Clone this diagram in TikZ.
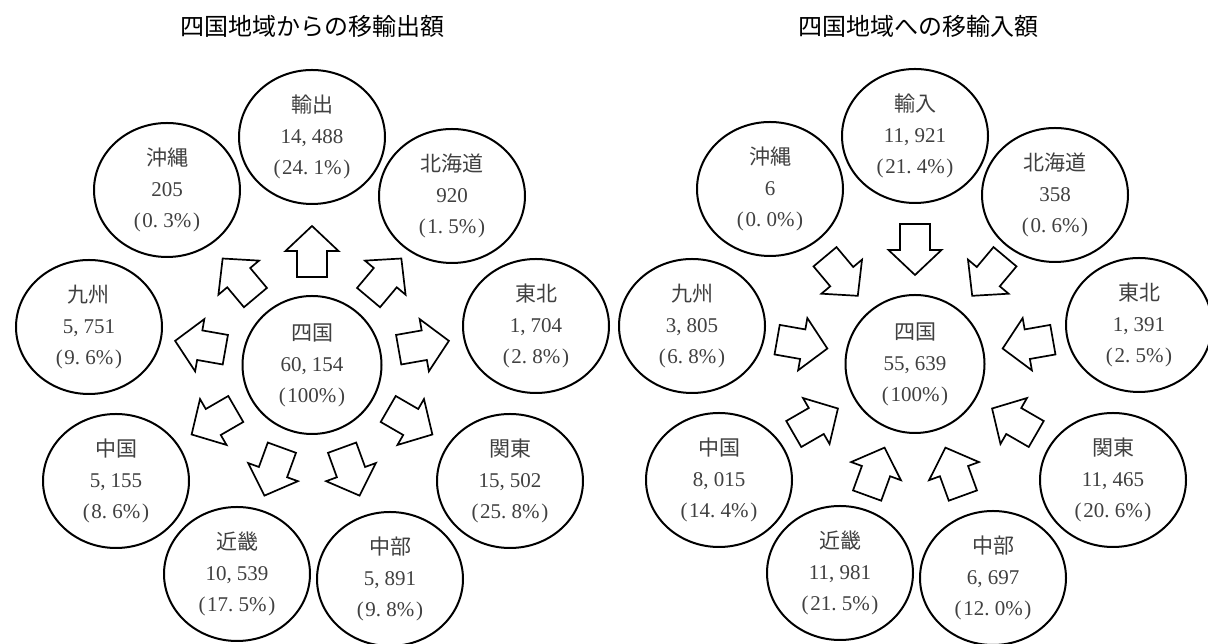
\documentclass[tikz,border=0pt]{standalone}
\usepackage{fontspec}
\setmainfont{Liberation Serif}
\newfontfamily\jpf{Noto Sans CJK JP}
\usetikzlibrary{shapes.geometric,calc}
\newcommand\cma{\makebox[0.5em][l]{,}}
\newcommand\dta{\makebox[0.5em][l]{.}}
\newcommand\lpa{\makebox[0.5em][c]{(}}
\newcommand\rpa{\makebox[0.5em][c]{)}}
\tikzset{
  region/.style={ellipse, draw, line width=2pt, minimum width=146pt, minimum height=134pt,
    inner sep=0pt, align=center, text=black!75, font=\fontsize{21}{31}\selectfont},
  hub/.style={region, minimum width=139pt, minimum height=138pt},
  blockarrow/.style={draw, line width=1.7pt, line join=miter, fill=white},
  ttl/.style={font=\jpf\fontsize{24}{28}\selectfont, text=black, inner sep=0pt}
}
\begin{document}
\begin{tikzpicture}[x=1pt,y=1pt]
\clip (0,0) rectangle (1208,644);
\fill[white] (0,0) rectangle (1208,644);
\coordinate (LC) at (312,279);
\coordinate (RC) at (915,280);
% titles
\node[ttl] (Lt) at (312,618) {四国地域からの移輸出額};
\node[ttl] (Rt) at (918,618) {四国地域への移輸入額};
% ---------- left diagram ----------
\foreach \a in {10,50,...,330}{
  \begin{scope}[shift={(LC)}, rotate=\a]
    \draw[blockarrow] (88,-15) -- (114,-15) -- (114,-26.5) -- (139,0) -- (114,26.5) -- (114,15) -- (88,15) -- cycle;
  \end{scope}
}
\node[hub] (Lsk) at (LC) {{\jpf 四国}\\60\cma154\\\lpa100\%\rpa};
\node[region] (Lex) at ($(LC)+(0,228)$) {{\jpf 輸出}\\14\cma488\\\lpa24\dta1\%\rpa};
\node[region] (Lok) at ($(LC)+(-145,175)$) {{\jpf 沖縄}\\205\\\lpa0\dta3\%\rpa};
\node[region] (Lhk) at ($(LC)+(140,169)$) {{\jpf 北海道}\\920\\\lpa1\dta5\%\rpa};
\node[region] (Lky) at ($(LC)+(-223,38)$) {{\jpf 九州}\\5\cma751\\\lpa9\dta6\%\rpa};
\node[region] (Lth) at ($(LC)+(224,39)$) {{\jpf 東北}\\1\cma704\\\lpa2\dta8\%\rpa};
\node[region] (Lcg) at ($(LC)+(-196,-116)$) {{\jpf 中国}\\5\cma155\\\lpa8\dta6\%\rpa};
\node[region] (Lkt) at ($(LC)+(198,-116)$) {{\jpf 関東}\\15\cma502\\\lpa25\dta8\%\rpa};
\node[region] (Lkk) at ($(LC)+(-75,-209)$) {{\jpf 近畿}\\10\cma539\\\lpa17\dta5\%\rpa};
\node[region] (Lcb) at ($(LC)+(78,-214)$) {{\jpf 中部}\\5\cma891\\\lpa9\dta8\%\rpa};
% ---------- right diagram ----------
\foreach \a in {10,50,...,330}{
  \begin{scope}[shift={(RC)}, rotate=\a]
    \draw[blockarrow] (140,-15) -- (114,-15) -- (114,-26.5) -- (89,0) -- (114,26.5) -- (114,15) -- (140,15) -- cycle;
  \end{scope}
}
\node[hub] (Rsk) at (RC) {{\jpf 四国}\\55\cma639\\\lpa100\%\rpa};
\node[region] (Rim) at ($(RC)+(0,228)$) {{\jpf 輸入}\\11\cma921\\\lpa21\dta4\%\rpa};
\node[region] (Rok) at ($(RC)+(-145,175)$) {{\jpf 沖縄}\\6\\\lpa0\dta0\%\rpa};
\node[region] (Rhk) at ($(RC)+(140,169)$) {{\jpf 北海道}\\358\\\lpa0\dta6\%\rpa};
\node[region] (Rky) at ($(RC)+(-223,38)$) {{\jpf 九州}\\3\cma805\\\lpa6\dta8\%\rpa};
\node[region] (Rth) at ($(RC)+(224,39)$) {{\jpf 東北}\\1\cma391\\\lpa2\dta5\%\rpa};
\node[region] (Rcg) at ($(RC)+(-196,-116)$) {{\jpf 中国}\\8\cma015\\\lpa14\dta4\%\rpa};
\node[region] (Rkt) at ($(RC)+(198,-116)$) {{\jpf 関東}\\11\cma465\\\lpa20\dta6\%\rpa};
\node[region] (Rkk) at ($(RC)+(-75,-209)$) {{\jpf 近畿}\\11\cma981\\\lpa21\dta5\%\rpa};
\node[region] (Rcb) at ($(RC)+(78,-214)$) {{\jpf 中部}\\6\cma697\\\lpa12\dta0\%\rpa};
\end{tikzpicture}
\end{document}
